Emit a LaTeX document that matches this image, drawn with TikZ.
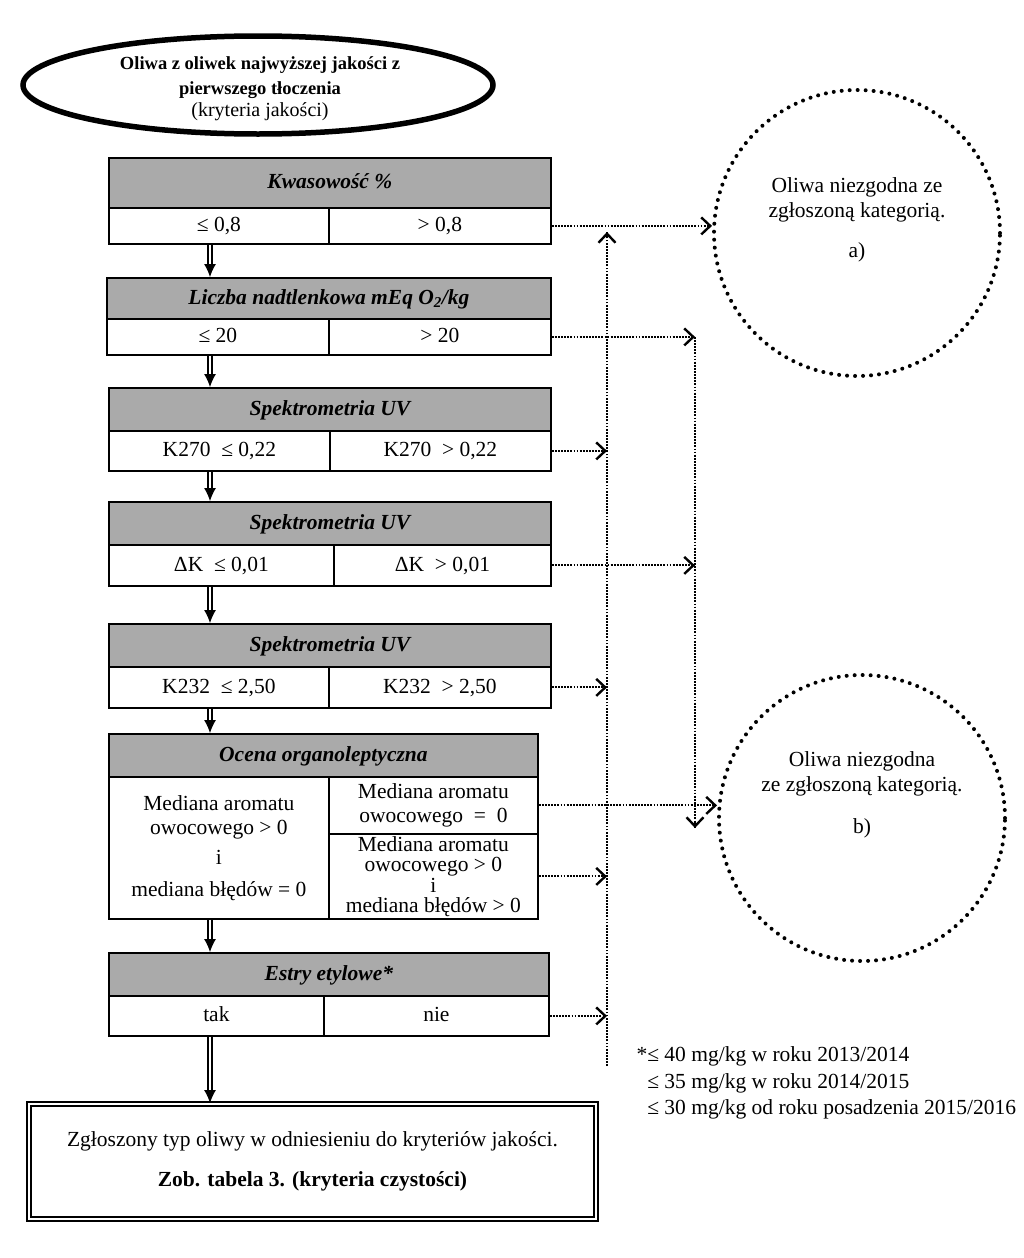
\documentclass[tikz,border=0pt]{standalone}
\usepackage{fontspec}
\setmainfont{Liberation Serif}
\usetikzlibrary{shapes.geometric,arrows.meta,calc}
\definecolor{hdrgray}{RGB}{170,170,170}
\newcommand{\dblarr}[2]{\draw[dbl] #1 -- #2; \draw[dbltip] ($#2+(0,-13)$) -- #2;}
\begin{document}
\begin{tikzpicture}[x=1pt,y=-1pt,
  hdr/.style={draw, fill=hdrgray, line width=1.8pt, anchor=north west, inner sep=0pt,
    text height=15pt, text depth=3pt,
    font=\fontsize{21.5}{25}\selectfont\bfseries\itshape},
  cell/.style={draw, fill=white, line width=1.8pt, anchor=north west, inner sep=0pt,
    align=center, font=\fontsize{21.5}{24}\selectfont},
  cellone/.style={cell, text height=15pt, text depth=3pt},
  dbl/.style={double, double distance=2.2pt, line width=1.9pt, shorten >=11pt},
  dbltip/.style={line width=1pt, -{Latex[length=13pt,width=12pt]}},
  dotarr/.style={line width=2pt, dash pattern=on 1.8pt off 1.3pt,
    -{Straight Barb[length=9pt,width=17pt,line width=2.4pt]}},
  vdot/.style={line width=2pt, dash pattern=on 1.8pt off 1.3pt},
  circ/.style={circle, draw, line width=4pt, dash pattern=on 0pt off 8pt, line cap=round,
    minimum size=286pt, inner sep=0pt},
  ctext/.style={align=center, font=\fontsize{21.5}{25}\selectfont}
]
\useasboundingbox (0,0) rectangle (1024,1258);
\fill[white] (0,0) rectangle (1024,1258);

% top ellipse
\node[ellipse, draw, line width=5.5pt, minimum width=470pt, minimum height=98pt, inner sep=0pt] (top) at (258,85) {};
\node[align=center, font=\fontsize{18.5}{25}\selectfont] (toptxt) at (260,89)
  {\textbf{Oliwa z oliwek najwyższej jakości z}\\ \textbf{pierwszego tłoczenia}\\[-3pt] {\fontsize{20}{22}\selectfont(kryteria jakości)}};

% box 1
\node[hdr, minimum width=442pt, minimum height=50pt] (h1) at (108,157) {Kwasowość \%};
\node[cellone, minimum width=220pt, minimum height=36pt] (c1l) at (108,207) {≤ 0,8};
\node[cellone, minimum width=222pt, minimum height=36pt] (c1r) at (328,207) {> 0,8};

% box 2
\node[hdr, minimum width=444pt, minimum height=41pt] (h2) at (106,277) {Liczba nadtlenkowa mEq O\textsubscript{2}/kg};
\node[cellone, minimum width=222pt, minimum height=36pt] (c2l) at (106,318) {≤ 20};
\node[cellone, minimum width=222pt, minimum height=36pt] (c2r) at (328,318) {> 20};

% box 3
\node[hdr, minimum width=442pt, minimum height=43pt] (h3) at (108,387) {Spektrometria UV};
\node[cellone, minimum width=221pt, minimum height=40pt] (c3l) at (108,430) {K270 \ ≤ 0,22};
\node[cellone, minimum width=221pt, minimum height=40pt] (c3r) at (329,430) {K270 \ > 0,22};

% box 4
\node[hdr, minimum width=442pt, minimum height=43pt] (h4) at (108,501) {Spektrometria UV};
\node[cellone, minimum width=225pt, minimum height=41pt] (c4l) at (108,544) {ΔK \ ≤ 0,01};
\node[cellone, minimum width=217pt, minimum height=41pt] (c4r) at (333,544) {ΔK \ > 0,01};

% box 5
\node[hdr, minimum width=442pt, minimum height=43pt] (h5) at (108,623) {Spektrometria UV};
\node[cellone, minimum width=220pt, minimum height=41pt] (c5l) at (108,666) {K232 \ ≤ 2,50};
\node[cellone, minimum width=222pt, minimum height=41pt] (c5r) at (328,666) {K232 \ > 2,50};

% box 6
\node[hdr, minimum width=429pt, minimum height=43pt] (h6) at (108,733) {Ocena organoleptyczna};
\node[cell, minimum width=220pt, minimum height=142pt] (c6l) at (108,776)
  {Mediana aromatu\\owocowego > 0\\[6pt] i\\[8pt] mediana błędów = 0};
\node[cell, minimum width=209pt, minimum height=57pt] (c6a) at (328,776)
  {Mediana aromatu\\owocowego \ = \ 0};
\node[cell, minimum width=209pt, minimum height=85pt, font=\fontsize{21.5}{20.5}\selectfont] (c6b) at (328,833)
  {Mediana aromatu\\owocowego > 0\\i\\mediana błędów > 0};

% box 7
\node[hdr, minimum width=440pt, minimum height=43pt] (h7) at (108,952) {Estry etylowe*};
\node[cellone, minimum width=215pt, minimum height=40pt] (c7l) at (108,995) {tak};
\node[cellone, minimum width=225pt, minimum height=40pt] (c7r) at (323,995) {nie};

% final box
\node[draw, double, double distance=2.5pt, line width=2pt, anchor=north west,
  minimum width=567pt, minimum height=115pt, inner sep=0pt, align=center,
  font=\fontsize{21.5}{40}\selectfont] (fin) at (28,1103)
  {Zgłoszony typ oliwy w odniesieniu do kryteriów jakości.\\ \textbf{Zob. tabela 3. (kryteria czystości)}};

% circles
\node[circ] (ca) at (857,233) {};
\node[ctext] (catxt) at (857,200) {Oliwa niezgodna ze\\zgłoszoną kategorią.};
\node[ctext] (calab) at (857,252) {a)};
\node[circ] (cb) at (862,818) {};
\node[ctext] (cbtxt) at (862,774) {Oliwa niezgodna\\ze zgłoszoną kategorią.};
\node[ctext] (cblab) at (862,828) {b)};

% footnote
\node[anchor=west, align=left, font=\fontsize{21.5}{26.5}\selectfont] (foot) at (633,1083)
  {*≤ 40 mg/kg w roku 2013/2014\\ \phantom{*}≤ 35 mg/kg w roku 2014/2015\\ \phantom{*}≤ 30 mg/kg od roku posadzenia 2015/2016};

% main flow (double arrows)
\coordinate (ax) at (210,0);
\dblarr{(ax |- c1l.south)}{(ax |- h2.north)}
\dblarr{(ax |- c2l.south)}{(ax |- h3.north)}
\dblarr{(ax |- c3l.south)}{(ax |- h4.north)}
\dblarr{(ax |- c4l.south)}{(ax |- h5.north)}
\dblarr{(ax |- c5l.south)}{(ax |- h6.north)}
\dblarr{(ax |- c6l.south)}{(ax |- h7.north)}
\dblarr{(ax |- c7l.south)}{(ax |- fin.north)}

% dotted connectors
\coordinate (vb) at (607,1066);
\coordinate (vt) at (607,232);
\coordinate (v2b) at (695,828);
\draw[vdot] (vb) -- (vt);
\draw[dotarr] ($(vt)+(0,6)$) -- (vt);
\draw[dotarr] (c1r.east) -- (c1r.east -| ca.west);
\draw[dotarr] (c3r.east) -- (c3r.east -| vb);
\draw[dotarr] (c5r.east) -- (c5r.east -| vb);
\draw[dotarr] (c6b.east) -- (c6b.east -| vb);
\draw[dotarr] (c7r.east) -- (c7r.east -| vb);
\draw[dotarr] (c2r.east) -- (c2r.east -| v2b);
\draw[dotarr] (c4r.east) -- (c4r.east -| v2b);
\draw[vdot] (c2r.east -| v2b) -- (v2b);
\draw[dotarr] ($(v2b)+(0,-6)$) -- (v2b);
\draw[dotarr] (c6a.east) -- (c6a.east -| cb.west);
\end{tikzpicture}
\end{document}
